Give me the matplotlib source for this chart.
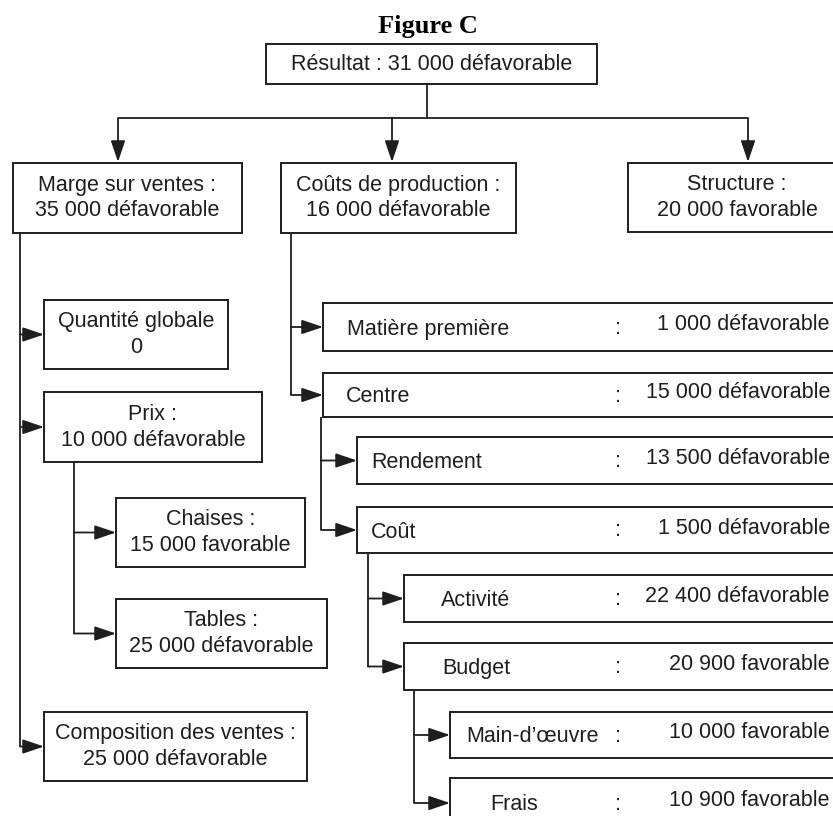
import matplotlib.pyplot as plt
from matplotlib.patches import Rectangle

# texts of the tree
title = "Figure C"
root_label = "Résultat : 31 000 défavorable"
level1_titles = ["Marge sur ventes :", "Coûts de production :", "Structure :"]
level1_values = ["35 000 défavorable", "16 000 défavorable", "20 000 favorable"]
sales_titles = ["Quantité globale", "Prix :", "Composition des ventes :"]
sales_values = ["0", "10 000 défavorable", "25 000 défavorable"]
price_titles = ["Chaises :", "Tables :"]
price_values = ["15 000 favorable", "25 000 défavorable"]
prod_labels = ["Matière première", "Centre", "Rendement", "Coût",
               "Activité", "Budget", "Main-d\u2019\u0153uvre", "Frais"]
prod_values = ["1 000 défavorable", "15 000 défavorable", "13 500 défavorable",
               "1 500 défavorable", "22 400 défavorable", "20 900 favorable",
               "10 000 favorable", "10 900 favorable"]

# layout (pixel coords, y down)
root_box = (266, 44, 597, 84)
level1_boxes = [(13, 163, 242, 233), (281, 163, 516, 233), (628, 163, 846, 232)]
level1_arrow_x = [118, 392, 748]
sales_boxes = [(44, 300, 228, 369), (44, 392, 262, 462), (44, 712, 307, 781)]
price_boxes = [(116, 498, 305, 567), (116, 599, 327, 668)]
prod_boxes = [(323, 303, 351), (323, 373, 417), (357, 437, 484), (357, 507, 553),
              (404, 575, 622), (404, 643, 690), (450, 712, 758), (450, 778, 828)]
prod_text_x = [347, 346, 371, 371, 441, 442, 466, 490]

INK = "#1e1e1e"
FONT = "Liberation Sans"
FS = 15.5

fig = plt.figure(figsize=(8.33, 8.16), dpi=100)
ax = fig.add_axes([0, 0, 1, 1])
ax.set_xlim(0, 833)
ax.set_ylim(816, 0)
ax.axis("off")


def box(x0, y0, x1, y1):
    ax.add_patch(Rectangle((x0, y0), x1 - x0, y1 - y0, facecolor="white",
                           edgecolor=INK, lw=1.4, zorder=2))


def arrow(x0, y0, x1, y1):
    ax.annotate("", xy=(x1, y1), xytext=(x0, y0),
                arrowprops=dict(arrowstyle="-|>,head_length=13,head_width=4.4",
                                mutation_scale=1, color=INK, lw=1.3,
                                shrinkA=0, shrinkB=0), zorder=3)


def line(xs, ys):
    ax.plot(xs, ys, color=INK, lw=1.3, solid_capstyle="butt", zorder=1)


def two_lines(b, top, bottom):
    cx = (b[0] + b[2]) / 2
    cy = (b[1] + b[3]) / 2
    ax.text(cx, cy - 13, top, ha="center", va="center", fontsize=FS,
            family=FONT, color=INK, zorder=4)
    ax.text(cx, cy + 13, bottom, ha="center", va="center", fontsize=FS,
            family=FONT, color=INK, zorder=4)


# title and root
ax.text(428, 33, title, ha="center", va="baseline", fontsize=19,
        family="Liberation Serif", weight="bold", color="black")
box(*root_box)
ax.text((root_box[0] + root_box[2]) / 2, (root_box[1] + root_box[3]) / 2, root_label,
        ha="center", va="center", fontsize=FS, family=FONT, color=INK, zorder=4)

# first level
line([427, 427], [root_box[3], 118])
line([level1_arrow_x[0], level1_arrow_x[-1]], [118, 118])
for x in level1_arrow_x:
    arrow(x, 118, x, 162)
for b, t, v in zip(level1_boxes, level1_titles, level1_values):
    box(*b)
    two_lines(b, t, v)

# sales margin branch
sales_cy = [(b[1] + b[3]) / 2 for b in sales_boxes]
line([20, 20], [level1_boxes[0][3], sales_cy[-1]])
for b, t, v, cy in zip(sales_boxes, sales_titles, sales_values, sales_cy):
    arrow(20, cy, b[0], cy)
    box(*b)
    two_lines(b, t, v)

price_cy = [(b[1] + b[3]) / 2 for b in price_boxes]
line([74, 74], [sales_boxes[1][3], price_cy[-1]])
for b, t, v, cy in zip(price_boxes, price_titles, price_values, price_cy):
    arrow(74, cy, b[0], cy)
    box(*b)
    two_lines(b, t, v)

# production cost branch
spines = [(291, level1_boxes[1][3]), (321, None), (368, None), (414, None)]
for k in range(4):
    a, b2 = prod_boxes[2 * k], prod_boxes[2 * k + 1]
    x, ytop = spines[k]
    if ytop is None:
        ytop = prod_boxes[2 * k - 1][2]
    c1 = (a[1] + a[2]) / 2
    c2 = (b2[1] + b2[2]) / 2
    line([x, x], [ytop, c2])
    arrow(x, c1, a[0], c1)
    arrow(x, c2, b2[0], c2)

for (x0, y0, y1), lab, val, tx in zip(prod_boxes, prod_labels, prod_values, prod_text_x):
    box(x0, y0, 846, y1)
    cy = (y0 + y1) / 2
    ax.text(tx, cy + 2, lab, ha="left", va="center", fontsize=FS,
            family=FONT, color=INK, zorder=4)
    ax.text(618, cy + 1, ":", ha="center", va="center", fontsize=FS,
            family=FONT, color=INK, zorder=4)
    ax.text(830, cy - 2, val, ha="right", va="center", fontsize=FS,
            family=FONT, color=INK, zorder=4)

fig.savefig("out.png", dpi=100)
